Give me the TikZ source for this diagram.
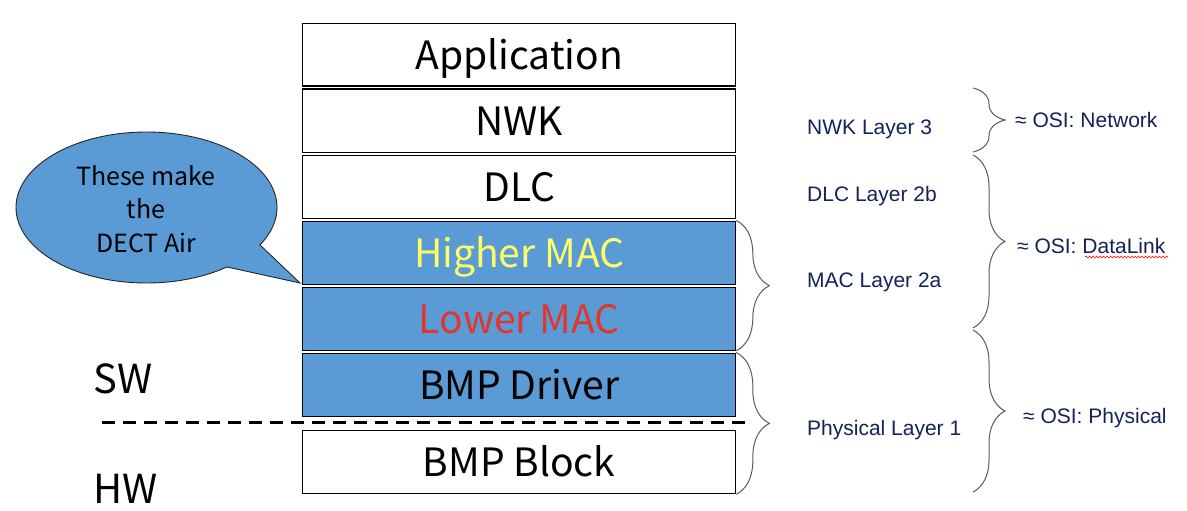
\documentclass[tikz,border=0pt]{standalone}
\usepackage{fontspec}
\setmainfont{Liberation Sans}
\newfontfamily\boxfont{Noto Sans CJK SC}
\usetikzlibrary{decorations.pathreplacing,decorations.pathmorphing,shapes.geometric}
\definecolor{macblue}{HTML}{5B9BD5}
\definecolor{hiyellow}{HTML}{FFFF66}
\definecolor{lored}{HTML}{E0362C}
\definecolor{navy}{HTML}{14215A}
\definecolor{bracegray}{HTML}{5A5A5A}
\begin{document}
\begin{tikzpicture}[x=1pt,y=-1pt,
  layer/.style={draw=black, line width=1.3pt, minimum width=433pt, minimum height=63pt,
    inner sep=0pt, anchor=north west, text height=29pt, text depth=0pt,
    font=\boxfont\fontsize{39}{39}\selectfont},
  bluelayer/.style={layer, fill=macblue},
  lbl/.style={anchor=base west, text=navy, inner sep=0pt, font=\fontsize{21}{21}\selectfont},
  side/.style={anchor=base west, inner sep=0pt, font=\boxfont\fontsize{40}{40}\selectfont},
  brc/.style={draw=bracegray, line width=1pt, decorate, decoration={brace, amplitude=#1}},
]
\useasboundingbox (0,0) rectangle (1187,511);

% layer stack
\node[layer, minimum height=62.5pt] (app) at (302,23) {Application};
\node[layer] (nwk) at (302,88.5) {NWK};
\node[layer] (dlc) at (302,154.5) {DLC};
\node[bluelayer, text=hiyellow] (hmac) at (302,220.5) {Higher MAC};
\node[bluelayer, text=lored] (lmac) at (302,286.5) {Lower MAC};
\node[bluelayer] (drv) at (302,352.5) {BMP Driver};
\node[layer] (blk) at (302,430) {BMP Block};

% SW / HW split
\coordinate (dashL) at (102,422);
\coordinate (dashR) at (746,422);
\draw[line width=3pt, dash pattern=on 12.5pt off 8.5pt] (dashL) -- (dashR);
\node[side] (sw) at (93,393) {SW};
\node[side] (hw) at (93,503) {HW};

% speech bubble
\node[ellipse, draw=black!85, fill=macblue, line width=0.9pt, minimum width=261pt,
  minimum height=151pt, inner sep=0pt] (bubble) at (146.5,207.5) {};
\coordinate (tailA) at (260,245);
\coordinate (tailTip) at (300,283);
\coordinate (tailB) at (227,267);
\fill[macblue] (tailA) -- (tailTip) -- (tailB) -- (240,250) -- cycle;
\draw[black!85, line width=0.9pt, line join=miter] (tailA) -- (tailTip) -- (tailB);
\node[align=center, inner sep=0pt, font=\boxfont\fontsize{25}{33.5}\selectfont] (btext)
  at (146,209) {These make\\the\\DECT Air};

% inner braces
\draw[brc=33pt] (hmac.north east) -- (lmac.south east);
\draw[brc=33pt] (drv.north east) -- (blk.south east);

% layer labels
\node[lbl] (lnwk) at (807,135) {NWK Layer 3};
\node[lbl] (ldlc) at (807,201) {DLC Layer 2b};
\node[lbl] (lmacl) at (807,287) {MAC Layer 2a};
\node[lbl] (lphy) at (807,435) {Physical Layer 1};

% outer braces
\coordinate (o1t) at (973,88);
\coordinate (o1b) at (973,152);
\coordinate (o2t) at (973,155);
\coordinate (o2b) at (973,328);
\coordinate (o3t) at (973,330);
\coordinate (o3b) at (973,492);
\draw[brc=32pt] (o1t) -- (o1b);
\draw[brc=32pt] (o2t) -- (o2b);
\draw[brc=32pt] (o3t) -- (o3b);

% OSI labels
\node[lbl] (osi1) at (1015,128) {≈ OSI: Network};
\node[lbl] (osi2) at (1017,253) {≈ OSI: DataLink};
\node[lbl] (osi3) at (1023,423) {≈ OSI: Physical};
\draw[red, line width=0.6pt, decorate, decoration={snake, amplitude=0.9pt, segment length=3.5pt}]
  (1085,257) -- (1168,257);
\end{tikzpicture}
\end{document}
